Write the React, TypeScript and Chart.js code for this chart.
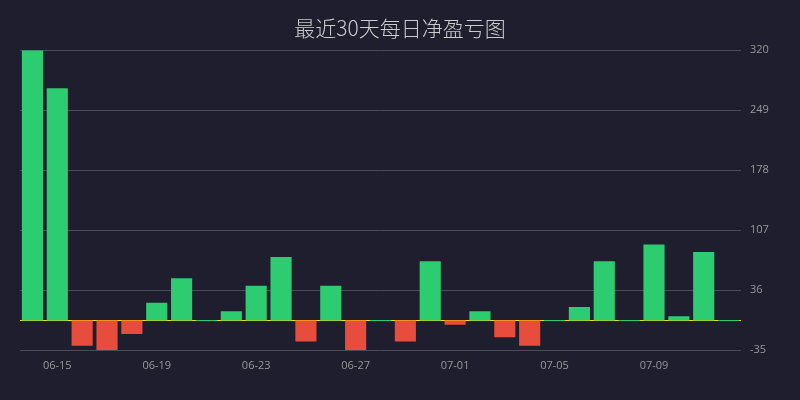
import React, { useEffect, useRef } from 'react';
import { Chart, registerables } from 'chart.js';

Chart.register(...registerables);

const dates = [
  '06-14', '06-15', '06-16', '06-17', '06-18', '06-19', '06-20', '06-21', '06-22', '06-23',
  '06-24', '06-25', '06-26', '06-27', '06-28', '06-29', '06-30', '07-01', '07-02', '07-03',
  '07-04', '07-05', '07-06', '07-07', '07-08', '07-09', '07-10', '07-11', '07-12',
];

const netPnl = [
  320, 275, -30, -35, -16, 21, 50, 0, 11, 41,
  75, -25, 41, -35, 0, -25, 70, -5, 11, -20,
  -30, 0, 16, 70, 0, 90, 5, 81, 0,
];

const yTicks = [-35, 36, 107, 178, 249, 320];

const GREEN = '#2ecc71';
const RED = '#e74c3c';

// yellow line at zero, drawn under the bars
const zeroLine = {
  id: 'zeroLine',
  beforeDatasetsDraw(chart: any) {
    const { ctx, chartArea, scales } = chart;
    const y = Math.round(scales.y.getPixelForValue(0)) + 0.5;
    ctx.save();
    ctx.strokeStyle = '#ffd700';
    ctx.lineWidth = 1;
    ctx.beginPath();
    ctx.moveTo(chartArea.left, y);
    ctx.lineTo(chartArea.right, y);
    ctx.stroke();
    ctx.restore();
  },
};

const tickFont = { family: "'Open Sans', 'Noto Sans', sans-serif", size: 11 };

const PnlChart: React.FC = () => {
  const canvasRef = useRef<HTMLCanvasElement | null>(null);

  useEffect(() => {
    if (!canvasRef.current) return;
    const ctx = canvasRef.current.getContext('2d');
    if (!ctx) return;

    const chart = new Chart(ctx, {
      type: 'bar',
      data: {
        labels: dates,
        datasets: [
          {
            label: '净盈亏',
            data: netPnl,
            xAxisID: 'x',
            yAxisID: 'y',
            backgroundColor: netPnl.map((v) => (v >= 0 ? GREEN : RED)),
            borderWidth: 0,
            barPercentage: 0.85,
            categoryPercentage: 1,
            minBarLength: 1,
          },
        ],
      },
      options: {
        animation: false,
        responsive: false,
        maintainAspectRatio: false,
        layout: { padding: 0 },
        plugins: {
          legend: { display: false },
          tooltip: { enabled: false },
          title: {
            display: true,
            text: '最近30天每日净盈亏图',
            color: '#cccccc',
            font: { family: "'Noto Sans CJK SC', 'Noto Sans', sans-serif", size: 21, weight: 300 },
            padding: { top: 15, bottom: 10 },
          },
        },
        scales: {
          x: {
            grid: { display: false, drawTicks: false },
            border: { display: false },
            ticks: {
              autoSkip: false,
              maxRotation: 0,
              minRotation: 0,
              padding: 9,
              color: '#999999',
              font: tickFont,
              callback: (_v: any, i: number) => ((i - 1) % 4 === 0 ? dates[i] : ''),
            },
            afterFit: (scale: any) => {
              scale.height = 50;
            },
          },
          y: {
            position: 'right',
            min: -35,
            max: 320,
            grid: { color: '#4a4a58', drawTicks: false, lineWidth: 1 },
            border: { display: false },
            afterBuildTicks: (scale: any) => {
              scale.ticks = yTicks.map((v) => ({ value: v }));
            },
            ticks: {
              padding: 9,
              color: '#999999',
              font: tickFont,
            },
            afterFit: (scale: any) => {
              scale.width = 59;
            },
          },
          // empty spacer on the left, keeps the title centred on the canvas
          spacer: {
            type: 'linear',
            position: 'left',
            grid: { display: false, drawTicks: false },
            border: { display: false },
            ticks: { display: false },
            afterFit: (scale: any) => {
              scale.width = 20;
            },
          },
        },
      },
      plugins: [zeroLine],
    });

    return () => {
      chart.destroy();
    };
  }, []);

  return (
    <div
      style={{
        position: 'absolute',
        left: 0,
        top: 0,
        width: 800,
        height: 400,
        background: '#1e1e2e',
      }}
    >
      <canvas ref={canvasRef} width={800} height={400} style={{ width: 800, height: 400 }} />
    </div>
  );
};

export default function App() {
  return <PnlChart />;
}
